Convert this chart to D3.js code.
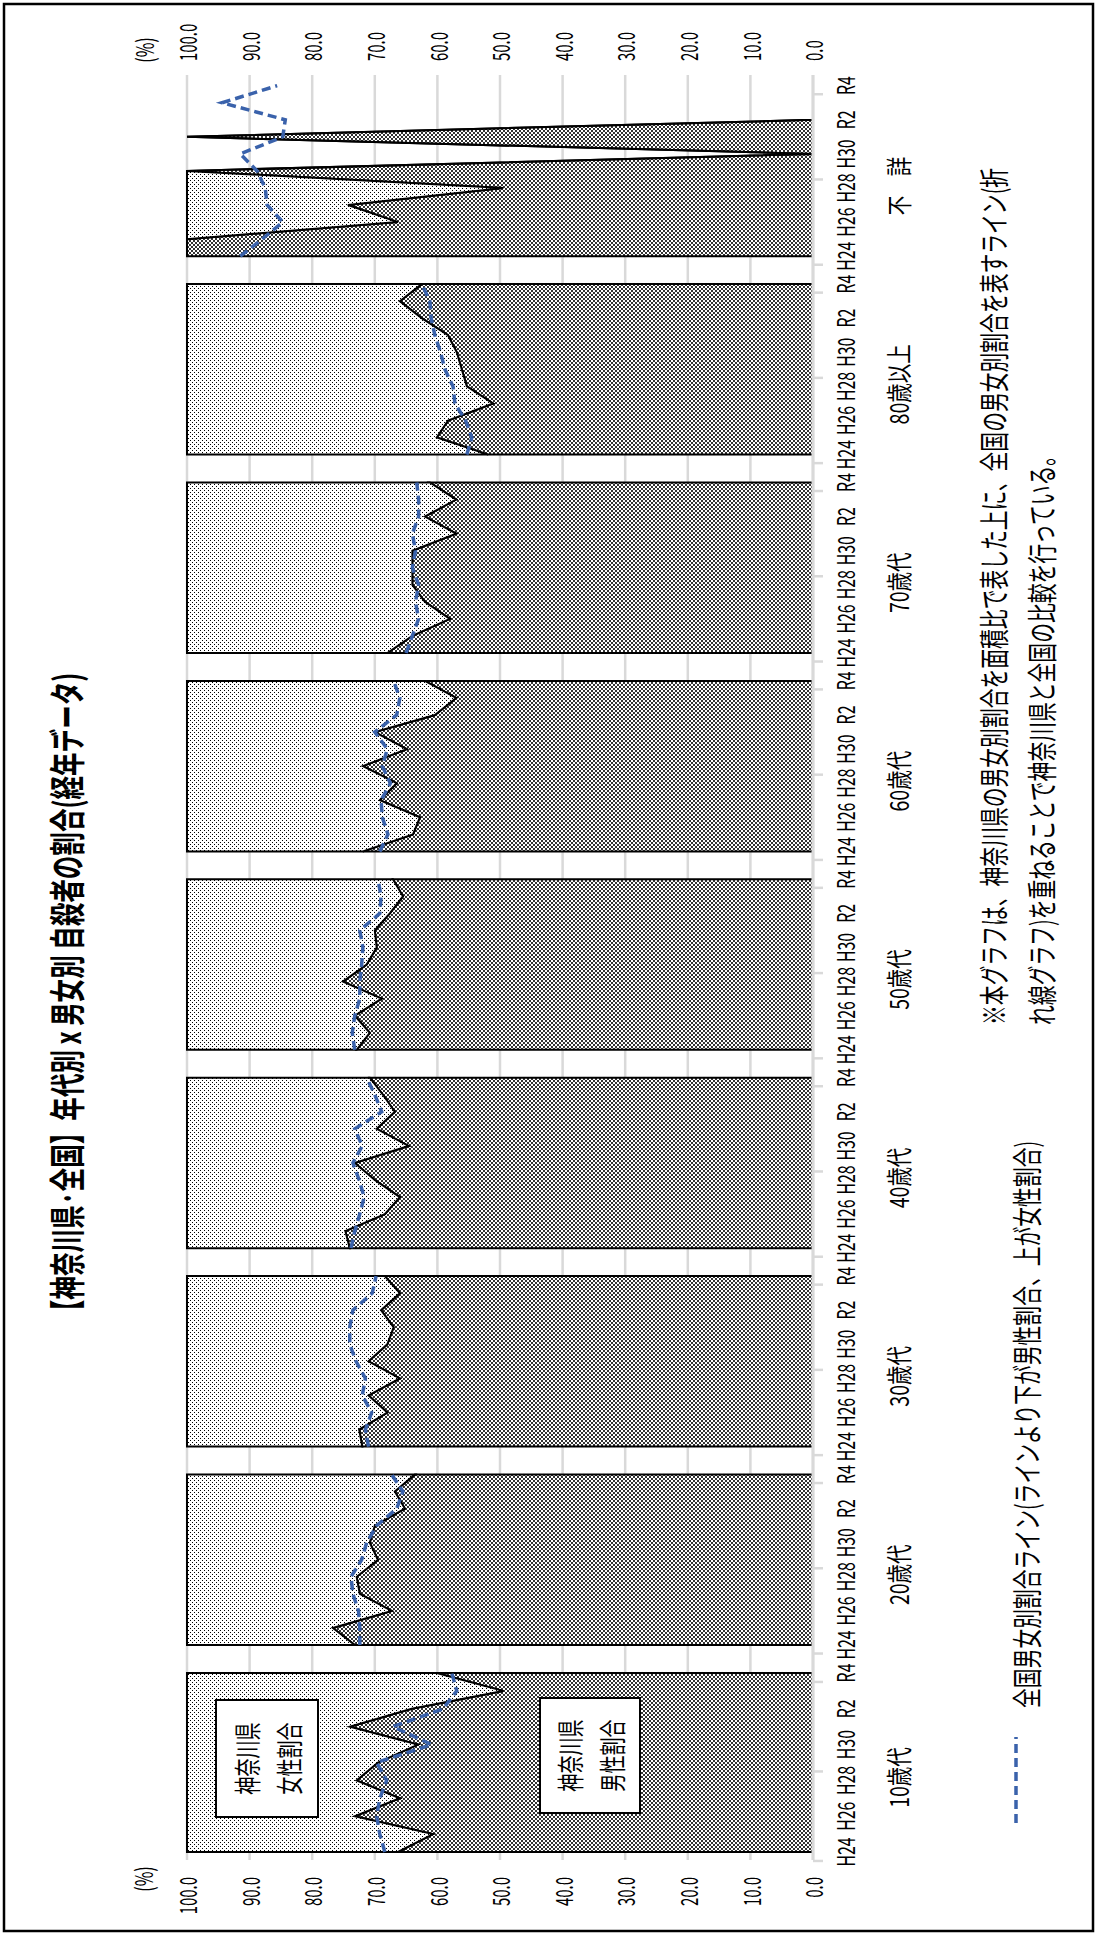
<!DOCTYPE html>
<html>
<head>
<meta charset="utf-8">
<script src="https://cdn.jsdelivr.net/npm/d3@7"></script>
<style>
  body { margin: 0; background: #fff; }
  svg { display: block; }
  text { font-family: "Noto Sans CJK JP", "Noto Sans", sans-serif; fill: #000; }
</style>
</head>
<body>
<svg id="chart" width="1097" height="1935"></svg>
<script>
var groups = ["10歳代", "20歳代", "30歳代", "40歳代", "50歳代", "60歳代", "70歳代", "80歳以上", "不　詳"];
var years = ["H24", "H25", "H26", "H27", "H28", "H29", "H30", "R1", "R2", "R3", "R4"];
var yearLabels = ["H24", "", "H26", "", "H28", "", "H30", "", "R2", "", "R4"];
var valueTicks = [0, 10, 20, 30, 40, 50, 60, 70, 80, 90, 100];

// 神奈川県 男性割合(%)  null = no data that year
var kanagawa10 = [66.3, 60.7, 73.2, 66.0, 72.9, 69.5, 63.1, 74.0, 64.1, 49.5, 60.1];
var kanagawa20 = [73.2, 76.7, 67.3, 72.4, 72.9, 69.5, 70.8, 70.0, 65.2, 66.8, 63.6];
var kanagawa30 = [72.0, 72.5, 68.0, 71.0, 66.0, 71.0, 68.0, 67.0, 69.0, 66.0, 68.4];
var kanagawa40 = [74.0, 74.7, 68.4, 66.0, 70.0, 73.2, 64.6, 69.7, 66.8, 68.7, 70.8];
var kanagawa50 = [72.9, 70.8, 73.2, 68.9, 75.1, 71.3, 69.7, 70.0, 67.6, 65.5, 67.1];
var kanagawa60 = [71.9, 63.9, 62.8, 69.2, 66.5, 71.9, 64.9, 70.0, 60.4, 57.0, 62.0];
var kanagawa70 = [68.0, 64.0, 58.0, 62.0, 64.0, 64.0, 64.0, 57.0, 62.0, 57.0, 61.2];
var kanagawa80 = [51.9, 60.1, 58.3, 51.1, 55.3, 56.1, 56.9, 58.3, 62.5, 66.0, 62.5];
var kanagawaUnknown = [100, 100, 66.3, 74.3, 49.5, 100, null, 100, null, null, null];

// 全国 男性割合(%)
var national10 = [68.4, 69.2, 69.7, 69.2, 68.1, 69.7, 60.9, 67.1, 59.1, 56.9, 57.7];
var national20 = [72.4, 72.4, 72.6, 73.5, 73.8, 72.1, 71.3, 69.7, 66.5, 65.5, 67.3];
var national30 = [71.0, 71.5, 70.5, 72.0, 71.5, 73.0, 74.0, 74.0, 73.5, 70.4, 69.8];
var national40 = [73.8, 73.2, 72.4, 71.7, 72.5, 73.5, 72.0, 73.2, 68.9, 70.0, 71.3];
var national50 = [73.2, 73.6, 73.2, 72.4, 72.4, 72.1, 71.9, 72.4, 69.2, 69.0, 69.5];
var national60 = [69.2, 67.9, 68.8, 69.0, 67.5, 68.8, 68.0, 70.0, 66.5, 66.0, 67.0];
var national70 = [65.0, 64.0, 63.0, 63.5, 63.0, 64.0, 63.5, 64.0, 63.0, 63.0, 63.3];
var national80 = [55.3, 54.5, 55.5, 57.2, 57.5, 58.8, 59.5, 60.4, 61.0, 61.2, 62.5];
var nationalUnknown = [91.5, 88.0, 84.7, 87.2, 87.5, 88.8, 91.5, 84.7, 84.3, 94.4, 85.6];

var kanagawaSeries = [kanagawa10, kanagawa20, kanagawa30, kanagawa40, kanagawa50, kanagawa60, kanagawa70, kanagawa80, kanagawaUnknown];
var nationalSeries = [national10, national20, national30, national40, national50, national60, national70, national80, nationalUnknown];

var titleText = "【神奈川県·全国】年代別 x 男女別 自殺者の割合(経年データ)";
var legendText = "全国男女別割合ライン(ラインより下が男性割合、上が女性割合)";
var noteLines = ["※本グラフは、神奈川県の男女別割合を面積比で表した上に、全国の男女別割合を表すライン(折",
                 "れ線グラフ)を重ねることで神奈川県と全国の比較を行っている。"];

var PAGE_H = 1935;
var GRID_COLOR = "#d9d9d9";
var BLUE = "#3a62ab";

var svg = d3.select("#chart");

// outer frame
svg.append("rect")
    .attr("x", 4).attr("y", 4)
    .attr("width", 1089).attr("height", 1927)
    .attr("fill", "none").attr("stroke", "#000").attr("stroke-width", 2.5);

// patterns
var defs = svg.append("defs");
var dots = defs.append("pattern").attr("id", "dots")
    .attr("width", 4).attr("height", 4).attr("patternUnits", "userSpaceOnUse");
dots.append("rect").attr("width", 4).attr("height", 4).attr("fill", "#fff");
[[0, 0], [2, 2]].forEach(function (p) {
    dots.append("rect").attr("x", p[0]).attr("y", p[1]).attr("width", 1).attr("height", 1).attr("fill", "#000");
});
var hatch = defs.append("pattern").attr("id", "hatch")
    .attr("width", 4).attr("height", 4).attr("patternUnits", "userSpaceOnUse");
hatch.append("rect").attr("width", 4).attr("height", 4).attr("fill", "#fff");
[[0, 0], [1, 1], [2, 2], [3, 3], [0, 3], [1, 2], [2, 1], [3, 0]].forEach(function (p) {
    hatch.append("rect").attr("x", p[0]).attr("y", p[1]).attr("width", 1).attr("height", 1).attr("fill", "#333");
});

// chart is drawn landscape, then turned a quarter left
var g = svg.append("g").attr("transform", "translate(0," + PAGE_H + ") rotate(-90)");

var y = d3.scaleLinear().domain([0, 100]).range([813, 187]);

function groupX(i) {
    var s = i === 0 ? 83 : 290 + 198.4 * (i - 1);
    var e = i === 0 ? 262 : s + 170.5;
    return d3.scaleLinear().domain([0, 10]).range([s, e]);
}

function label(sel, X, Y, s, size, sx, anchor, weight) {
    return sel.append("text")
        .attr("transform", "translate(" + X + "," + Y + ") scale(" + sx + ",1)")
        .attr("text-anchor", anchor || "middle")
        .attr("dominant-baseline", "central")
        .style("font-size", size + "px")
        .style("font-weight", weight || "normal")
        .text(s);
}

// gridlines
g.selectAll("line.grid")
    .data(valueTicks)
    .enter().append("line")
    .attr("class", "grid")
    .attr("x1", 75).attr("x2", 1860)
    .attr("y1", function (d) { return y(d); })
    .attr("y2", function (d) { return y(d); })
    .attr("stroke", GRID_COLOR).attr("stroke-width", 2.5);

// value labels, both sides
valueTicks.forEach(function (v) {
    label(g, 58, y(v), v.toFixed(1), 24, 0.62, "end");
    label(g, 1874, y(v), v.toFixed(1), 24, 0.62, "start");
});
label(g, 56, 142, "(%)", 24, 0.66, "middle");
label(g, 1885, 143, "(%)", 24, 0.66, "middle");

// panels
groups.forEach(function (name, i) {
    var x = groupX(i);
    var male = kanagawaSeries[i];
    var rows = male.map(function (m, k) {
        var has = m !== null;
        return { k: k, male: has ? m : 0, top: has ? 100 : 0 };
    });

    var maleArea = d3.area()
        .x(function (d) { return x(d.k); })
        .y0(y(0))
        .y1(function (d) { return y(d.male); });
    var femaleArea = d3.area()
        .x(function (d) { return x(d.k); })
        .y0(function (d) { return y(d.male); })
        .y1(function (d) { return y(d.top); });

    g.append("path").datum(rows).attr("d", maleArea)
        .attr("fill", "url(#hatch)").attr("stroke", "#000").attr("stroke-width", 2);
    g.append("path").datum(rows).attr("d", femaleArea)
        .attr("fill", "url(#dots)").attr("stroke", "#000").attr("stroke-width", 2)
        .attr("stroke-linejoin", "miter");

    var line = d3.line()
        .x(function (d, k) { return x(k); })
        .y(function (d) { return y(d); });
    g.append("path").datum(nationalSeries[i]).attr("d", line)
        .attr("fill", "none").attr("stroke", BLUE).attr("stroke-width", 3.5)
        .attr("stroke-dasharray", "9,5");

    // category ticks
    [-0.5, 4.5, 9.5].forEach(function (t) {
        g.append("line")
            .attr("x1", x(t)).attr("x2", x(t))
            .attr("y1", 813).attr("y2", 823)
            .attr("stroke", GRID_COLOR).attr("stroke-width", 2.5);
    });

    yearLabels.forEach(function (s, k) {
        if (s) label(g, x(k), 844, s, 24, 0.66, "middle");
    });
    label(g, (x(0) + x(10)) / 2 - 15, 898, name, 26, 0.75, "middle");
});

// category axis line
g.append("line")
    .attr("x1", 75).attr("x2", 1860)
    .attr("y1", 813).attr("y2", 813)
    .attr("stroke", GRID_COLOR).attr("stroke-width", 3);

// inner labels (10歳代 panel)
function box(X0, X1, Y0, Y1, lines) {
    g.append("rect")
        .attr("x", X0).attr("y", Y0)
        .attr("width", X1 - X0).attr("height", Y1 - Y0)
        .attr("fill", "#fff").attr("stroke", "#000").attr("stroke-width", 2);
    var cx = (X0 + X1) / 2, cy = (Y0 + Y1) / 2;
    label(g, cx, cy - 21, lines[0], 27, 0.67, "middle");
    label(g, cx, cy + 21, lines[1], 27, 0.67, "middle");
}
box(118, 235, 216, 318, ["神奈川県", "女性割合"]);
box(122, 237, 540, 640, ["神奈川県", "男性割合"]);

// title
label(g, 937, 66, titleText, 36, 0.655, "middle", "bold");

// legend
g.append("line")
    .attr("x1", 112).attr("x2", 198)
    .attr("y1", 1016).attr("y2", 1016)
    .attr("stroke", BLUE).attr("stroke-width", 3.5)
    .attr("stroke-dasharray", "9,5");
label(g, 227, 1025, legendText, 30, 0.66, "start");

// notes
label(g, 910, 992, noteLines[0], 30, 0.66, "start");
label(g, 910, 1040, noteLines[1], 30, 0.66, "start");
</script>
</body>
</html>
